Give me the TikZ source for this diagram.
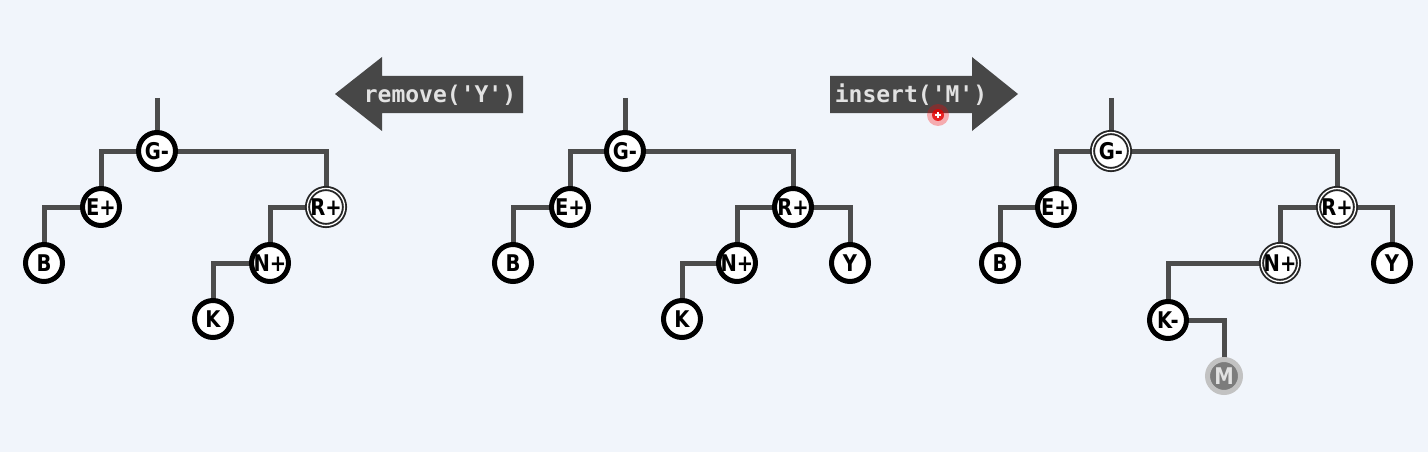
\documentclass[tikz,border=0pt]{standalone}
\usepackage{fontspec}
\usetikzlibrary{backgrounds}
\newfontfamily\nodefnt{DejaVu Sans}[FakeStretch=0.85]
\newfontfamily\codefnt{DejaVu Sans Mono}
\definecolor{bgc}{HTML}{F1F5FB}
\definecolor{linkc}{HTML}{4C4C4C}
\definecolor{arrc}{HTML}{474747}
\definecolor{codec}{HTML}{E2E2E2}
\definecolor{mfill}{HTML}{7C7C7C}
\definecolor{mring}{HTML}{C2C2C2}
\begin{document}
\begin{tikzpicture}[x=1pt,y=-1pt,
  nd/.style={circle, draw=black, line width=5pt, fill=white, minimum size=37pt,
    inner sep=0pt, text=black, font=\nodefnt\bfseries\fontsize{23}{23}\selectfont,
    execute at begin node={\hbox to 0pt\bgroup\hss},
    execute at end node={\hss\egroup}},
  dbl/.style={nd, draw=black!85, line width=1.9pt, double=white, double distance=1.3pt},
  mnode/.style={nd, draw=mring, fill=mfill, text=codec, minimum size=33pt},
  link/.style={draw=linkc, line width=5pt},
  code/.style={text=codec, font=\codefnt\bfseries\fontsize{23}{23}\selectfont, inner sep=0pt},
  arrowbody/.style={fill=arrc}
]
\useasboundingbox (0,0) rectangle (1428,452);

% ---------- left tree ----------
\coordinate (lT) at (157,98);
\node[nd]  (lG) at (157,151) {G-};
\node[nd]  (lE) at (101,207) {E+};
\node[dbl] (lR) at (326,207) {R+};
\node[nd]  (lB) at (44,263)  {B};
\node[nd]  (lN) at (270,263) {N+};
\node[nd]  (lK) at (213,319) {K};

% ---------- middle tree ----------
\coordinate (mT) at (625,98);
\node[nd] (mG) at (625,151) {G-};
\node[nd] (mE) at (570,207) {E+};
\node[nd] (mR) at (793,207) {R+};
\node[nd] (mB) at (513,263) {B};
\node[nd] (mN) at (737,263) {N+};
\node[nd] (mY) at (850,263) {Y};
\node[nd] (mK) at (682,319) {K};

% ---------- right tree ----------
\coordinate (rT) at (1111,98);
\node[dbl]   (rG) at (1111,151) {G-};
\node[nd]    (rE) at (1056,207) {E+};
\node[dbl]   (rR) at (1337,207) {R+};
\node[nd]    (rB) at (1000,263) {B};
\node[dbl]   (rN) at (1280,263) {N+};
\node[nd]    (rY) at (1392,263) {Y};
\node[nd]    (rK) at (1168,320) {K-};
\node[mnode] (rM) at (1224,376) {M};

% ---------- arrows ----------
\fill[arrowbody] (335,94) -- (382,57) -- (382,76) -- (523,76) -- (523,113)
  -- (382,113) -- (382,131) -- cycle;
\node[code] (remove) at (440,95) {remove(\textquotesingle Y\textquotesingle)};

\fill[arrowbody] (830,76) -- (972,76) -- (972,57) -- (1018,94) -- (972,131)
  -- (972,113) -- (830,113) -- cycle;
\node[code] (insert) at (911,95) {insert(\textquotesingle M\textquotesingle)};

% cursor mark
\coordinate (cur) at (938,115);
\fill[red, opacity=0.3] (cur) circle (11pt);
\fill[red!90!black, opacity=0.8] (cur) circle (6pt);
\draw[white, line width=1.2pt] ([xshift=-3pt]cur) -- ([xshift=3pt]cur)
  ([yshift=-3pt]cur) -- ([yshift=3pt]cur);

\begin{pgfonlayer}{background}
  \fill[bgc] (0,0) rectangle (1428,452);
  % left
  \draw[link] (lT) -- (lG);
  \draw[link] (lG.center) -| (lE.center);
  \draw[link] (lG.center) -| (lR.center);
  \draw[link] (lE.center) -| (lB.center);
  \draw[link] (lR.center) -| (lN.center);
  \draw[link] (lN.center) -| (lK.center);
  % middle
  \draw[link] (mT) -- (mG);
  \draw[link] (mG.center) -| (mE.center);
  \draw[link] (mG.center) -| (mR.center);
  \draw[link] (mE.center) -| (mB.center);
  \draw[link] (mR.center) -| (mN.center);
  \draw[link] (mR.center) -| (mY.center);
  \draw[link] (mN.center) -| (mK.center);
  % right
  \draw[link] (rT) -- (rG);
  \draw[link] (rG.center) -| (rE.center);
  \draw[link] (rG.center) -| (rR.center);
  \draw[link] (rE.center) -| (rB.center);
  \draw[link] (rR.center) -| (rN.center);
  \draw[link] (rR.center) -| (rY.center);
  \draw[link] (rN.center) -| (rK.center);
  \draw[link] (rK.center) -| (rM.center);
\end{pgfonlayer}
\end{tikzpicture}
\end{document}
